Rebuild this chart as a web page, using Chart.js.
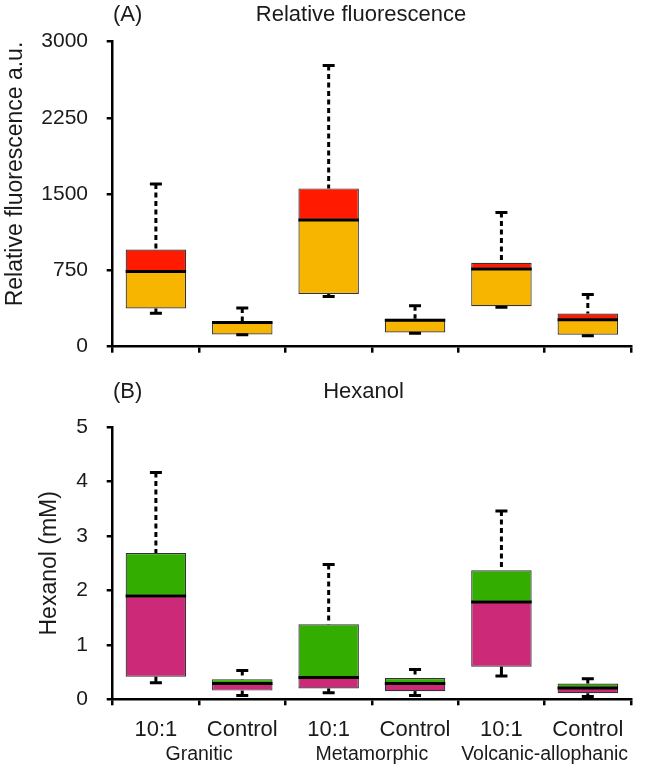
<!DOCTYPE html>
<html><head><meta charset="utf-8">
<script src="https://cdn.jsdelivr.net/npm/chart.js@4"></script>
<style>
html,body{margin:0;padding:0;background:#fff;}
#wrap{position:relative;width:645px;height:772px;overflow:hidden;}
#ca{position:absolute;left:0;top:0;}
#cb{position:absolute;left:0;top:378px;}
</style></head><body>
<div id="wrap"><canvas id="ca" width="645" height="378"></canvas><canvas id="cb" width="645" height="394"></canvas></div>
<script>
// ---- data ----
const categories = ['10:1','Control','10:1','Control','10:1','Control'];
const groups = ['Granitic','Metamorphic','Volcanic-allophanic'];

// Panel A: Relative fluorescence (a.u.)
const fluoMin    = [328, 118, 494, 133, 389, 107];
const fluoQ1     = [376, 120, 518, 139, 399, 117];
const fluoMedian = [740, 237, 1247, 259, 765, 266];
const fluoQ3     = [955, 250, 1557, 275, 826, 326];
const fluoMax    = [1601, 380, 2766, 402, 1320, 513];
const fluoTicks  = [0, 750, 1500, 2250, 3000];

// Panel B: Hexanol (mM)
const hexMin    = [0.305, 0.07, 0.12, 0.07, 0.43, 0.05];
const hexQ1     = [0.415, 0.16, 0.20, 0.15, 0.60, 0.11];
const hexMedian = [1.90, 0.29, 0.40, 0.29, 1.79, 0.21];
const hexQ3     = [2.69, 0.37, 1.38, 0.39, 2.37, 0.29];
const hexMax    = [4.17, 0.53, 2.48, 0.55, 3.46, 0.38];
const hexTicks  = [0, 1, 2, 3, 4, 5];

const FAMILY = "'Liberation Sans', Arial, sans-serif";
const TXT = '#1a1a1a';

const boxPlugin = {
  id: 'boxExtras',
  afterDatasetsDraw(chart, args, opts) {
    const ctx = chart.ctx;
    const x = chart.scales.x, y = chart.scales.y;
    const meta = chart.getDatasetMeta(0);
    const s = opts.stats;
    ctx.save();
    ctx.strokeStyle = '#000';
    ctx.lineCap = 'butt';
    s.median.forEach((_, i) => {
      const cx = x.getPixelForValue(i);
      const half = meta.data[i].width / 2;
      const yMin = y.getPixelForValue(s.min[i]);
      const yQ1 = y.getPixelForValue(s.q1[i]);
      const yMed = y.getPixelForValue(s.median[i]);
      const yQ3 = y.getPixelForValue(s.q3[i]);
      const yMax = y.getPixelForValue(s.max[i]);
      ctx.lineWidth = 3;
      ctx.setLineDash([5, 3.5]);
      ctx.beginPath(); ctx.moveTo(cx, yMax); ctx.lineTo(cx, yQ3); ctx.stroke();
      ctx.setLineDash([]);
      if (yMin > yQ1) { ctx.beginPath(); ctx.moveTo(cx, yQ1); ctx.lineTo(cx, yMin); ctx.stroke(); }
      ctx.beginPath();
      ctx.moveTo(cx - 6, yMax); ctx.lineTo(cx + 6, yMax);
      ctx.moveTo(cx - 6, yMin); ctx.lineTo(cx + 6, yMin);
      ctx.stroke();
      ctx.lineWidth = 3;
      ctx.beginPath(); ctx.moveTo(cx - half, yMed); ctx.lineTo(cx + half, yMed); ctx.stroke();
    });
    ctx.restore();
  }
};

const titlePlugin = {
  id: 'panelTitle',
  afterDraw(chart, args, o) {
    const ctx = chart.ctx;
    ctx.save();
    ctx.fillStyle = TXT;
    ctx.font = '22px ' + FAMILY;
    ctx.textBaseline = 'alphabetic';
    ctx.textAlign = 'left';
    ctx.fillText(o.tag, o.tagX, o.baseY);
    ctx.textAlign = 'center';
    ctx.fillText(o.text, o.textX, o.baseY);
    ctx.restore();
  }
};

function boxDatasets(q1, med, q3, lowColor, highColor) {
  const common = { borderColor: '#333', borderWidth: 1.2, borderSkipped: false, grouped: false,
                   barPercentage: 0.7, categoryPercentage: 1 };
  return [
    Object.assign({ data: categories.map((_, i) => [q1[i], med[i]]), backgroundColor: lowColor }, common),
    Object.assign({ data: categories.map((_, i) => [med[i], q3[i]]), backgroundColor: highColor }, common)
  ];
}

const axisGrid = { drawOnChartArea: false, drawTicks: true, tickLength: 6, color: '#000', lineWidth: 2.5 };
const axisBorder = { color: '#000', width: 2.5 };
const plainNum = v => String(v);

// ---- Panel A ----
new Chart(document.getElementById('ca'), {
  type: 'bar',
  data: { labels: categories, datasets: boxDatasets(fluoQ1, fluoMedian, fluoQ3, '#f8b500', '#ff1a00') },
  options: {
    responsive: false, animation: false, devicePixelRatio: 1,
    layout: { padding: { top: 41.7, right: 14, bottom: 10.7, left: 0 } },
    plugins: {
      legend: { display: false }, tooltip: { enabled: false },
      boxExtras: { stats: { min: fluoMin, q1: fluoQ1, median: fluoMedian, q3: fluoQ3, max: fluoMax } },
      panelTitle: { tag: '(A)', tagX: 113, text: 'Relative fluorescence', textX: 361, baseY: 21 }
    },
    scales: {
      x: { type: 'category', offset: true,
           grid: Object.assign({ offset: true }, axisGrid), border: axisBorder,
           ticks: { display: false },
           afterFit(s) { s.height = 10; } },
      y: { min: 0, max: 3000,
           afterBuildTicks(s) { s.ticks = fluoTicks.map(v => ({ value: v })); },
           ticks: { font: { size: 21, family: FAMILY }, color: TXT, padding: 18.7, callback: plainNum },
           grid: axisGrid, border: axisBorder,
           title: { display: true, text: 'Relative fluorescence a.u.', align: 'end',
                    font: { size: 23, family: FAMILY }, color: TXT, padding: { top: 2, bottom: 0 } },
           afterFit(s) { s.width = 112.7; } }
    }
  },
  plugins: [boxPlugin, titlePlugin]
});

// ---- Panel B ----
new Chart(document.getElementById('cb'), {
  type: 'bar',
  data: { labels: categories, datasets: boxDatasets(hexQ1, hexMedian, hexQ3, '#cc2a79', '#33ad00') },
  options: {
    responsive: false, animation: false, devicePixelRatio: 1,
    layout: { padding: { top: 49.3, right: 14, bottom: 0, left: 0 } },
    plugins: {
      legend: { display: false }, tooltip: { enabled: false },
      boxExtras: { stats: { min: hexMin, q1: hexQ1, median: hexMedian, q3: hexQ3, max: hexMax } },
      panelTitle: { tag: '(B)', tagX: 113, text: 'Hexanol', textX: 363.5, baseY: 20 }
    },
    scales: {
      x: { type: 'category', offset: true, position: 'bottom',
           grid: Object.assign({ offset: true }, axisGrid), border: axisBorder,
           ticks: { font: { size: 22, family: FAMILY }, color: TXT, padding: 11, maxRotation: 0, autoSkip: false },
           afterFit(s) { s.height = 44; } },
      x2: { type: 'category', labels: groups, offset: true, position: 'bottom',
            grid: { display: false, drawTicks: false }, border: { display: false },
            ticks: { font: { size: 19.5, family: FAMILY }, color: TXT, padding: 0, maxRotation: 0, autoSkip: false },
            afterFit(s) { s.height = 28.7; } },
      y: { min: 0, max: 5,
           afterBuildTicks(s) { s.ticks = hexTicks.map(v => ({ value: v })); },
           ticks: { font: { size: 21, family: FAMILY }, color: TXT, padding: 18.7, callback: plainNum },
           grid: axisGrid, border: axisBorder,
           title: { display: true, text: 'Hexanol (mM)', align: 'center',
                    font: { size: 23, family: FAMILY }, color: TXT, padding: { top: 36, bottom: 0 } },
           afterFit(s) { s.width = 112.7; } }
    }
  },
  plugins: [boxPlugin, titlePlugin]
});
</script>
</body></html>
